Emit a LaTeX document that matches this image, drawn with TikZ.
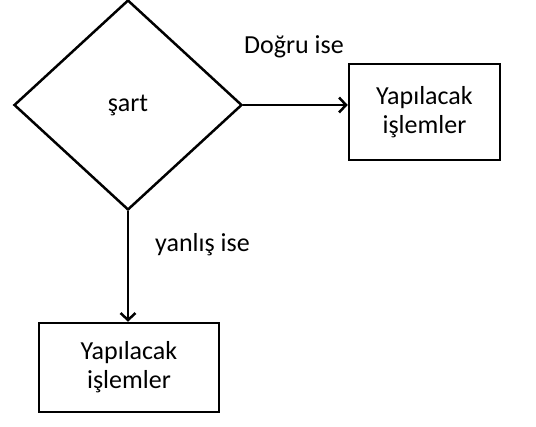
\documentclass[tikz,border=0pt]{standalone}
\usepackage{fontspec}
\setmainfont{Carlito}
\usetikzlibrary{positioning,shapes.geometric,arrows.meta}

\tikzset{
  kosul/.style={diamond, draw=black, line width=2.5pt, inner sep=0pt,
    minimum width=228pt, minimum height=210pt, aspect=1.086},
  islem/.style={rectangle, draw=black, line width=2.5pt, align=center,
    font=\fontsize{26}{29}\selectfont},
  ok/.style={line width=2.5pt, -{Straight Barb[length=7pt,width=15pt,line width=2.5pt]}},
  etiket/.style={font=\fontsize{26}{29}\selectfont}
}

\begin{document}
\begin{tikzpicture}[x=1pt,y=-1pt]
\useasboundingbox (0,0) rectangle (536,427);
\node[kosul] (sart) at (128,105) {\fontsize{26}{29}\selectfont şart};
\node[islem, minimum width=151pt, minimum height=96pt] (dogru) at (424.5,112) {Yapılacak\\işlemler};
\node[islem, minimum width=180pt, minimum height=89pt] (yanlis) at (129,367.5) {Yapılacak\\işlemler};
\node[etiket] (dogrulbl) at (294,47) {Doğru ise};
\node[etiket] (yanlislbl) at (202.5,245) {yanlış ise};
\draw[ok] (sart.east) -- (sart.east -| dogru.west);
\draw[ok] (sart.south) -- (sart.south |- yanlis.north);
\end{tikzpicture}
\end{document}
